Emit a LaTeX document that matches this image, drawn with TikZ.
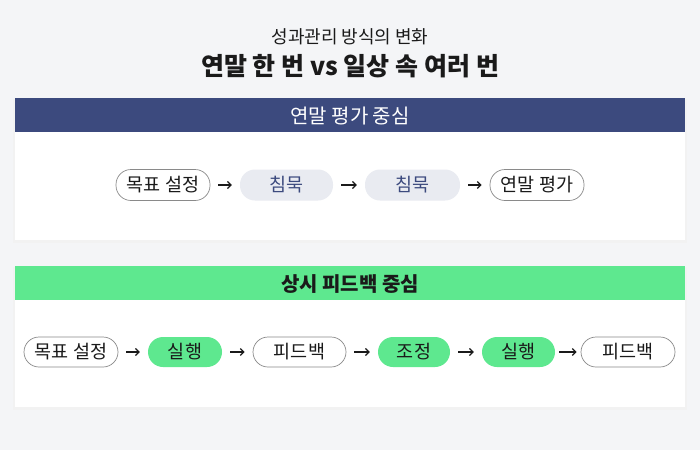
\documentclass[tikz,border=0pt]{standalone}
\usepackage{fontspec}
\setmainfont{Noto Sans CJK KR}
\usetikzlibrary{arrows.meta}
\definecolor{bgc}{HTML}{F4F5F7}
\definecolor{navy}{HTML}{3C4A7E}
\definecolor{grn}{HTML}{5EE88F}
\definecolor{softg}{HTML}{E9EBF1}
\definecolor{ink}{HTML}{1A1A1A}
\definecolor{edgec}{HTML}{8A8A8A}
\tikzset{
  x=1pt,y=-1pt,
  pill/.style={rounded corners=15pt, minimum height=31pt, inner sep=0pt, font=\fontsize{18.5}{22}\selectfont, text=ink},
  outl/.style={pill, draw=edgec, line width=0.7pt, fill=white},
  quiet/.style={pill, fill=softg, text=navy},
  act/.style={pill, fill=grn, text=ink},
  flow/.style={-{Straight Barb[length=3.5pt,width=7pt]}, line width=1.2pt, ink},
}
\begin{document}
\begin{tikzpicture}
\fill[bgc] (0,0) rectangle (700,450);
\useasboundingbox (0,0) rectangle (700,450);
% titles
\node[text=ink, font=\fontsize{18}{22}\selectfont] (sub) at (350,37) {성과관리 방식의 변화};
\node[text=ink, font=\fontsize{25}{30}\selectfont\bfseries] (ttl) at (350,66) {연말 한 번 vs 일상 속 여러 번};
% panel shadows
\fill[black!5] (13,99) rectangle (687,243);
\fill[black!5] (13,267) rectangle (687,410);
% panel 1
\fill[white] (15,132) rectangle (685,240);
\fill[navy] (15,98) rectangle (685,132);
\node[text=white, font=\fontsize{20}{24}\selectfont] (h1) at (350,116) {연말 평가 중심};
% panel 2
\fill[white] (15,300) rectangle (685,407);
\fill[grn] (15,266) rectangle (685,300);
\node[text=ink, font=\fontsize{20}{24}\selectfont\bfseries] (h2) at (350,284) {상시 피드백 중심};
% row 1
\node[outl, minimum width=94pt] (a1) at (163,185) {목표 설정};
\node[quiet, minimum width=93pt] (a2) at (286.5,185) {침묵};
\node[quiet, minimum width=95pt] (a3) at (412.5,185) {침묵};
\node[outl, minimum width=94pt] (a4) at (537,185) {연말 평가};
\draw[flow, shorten <=8pt, shorten >=8pt] (a1) -- (a2);
\draw[flow, shorten <=8pt, shorten >=8pt] (a2) -- (a3);
\draw[flow, shorten <=8pt, shorten >=8pt] (a3) -- (a4);
% row 2
\node[outl, minimum width=94pt, minimum height=30pt] (b1) at (71,352) {목표 설정};
\node[act, minimum width=74pt, minimum height=30pt] (b2) at (185,352) {실행};
\node[outl, minimum width=93pt, minimum height=30pt] (b3) at (299.5,352) {피드백};
\node[act, minimum width=72pt, minimum height=30pt] (b4) at (414,352) {조정};
\node[act, minimum width=73pt, minimum height=30pt] (b5) at (518.5,352) {실행};
\node[outl, minimum width=94pt, minimum height=30pt] (b6) at (628,352) {피드백};
\draw[flow, shorten <=8pt, shorten >=8pt] (b1) -- (b2);
\draw[flow, shorten <=8pt, shorten >=8pt] (b2) -- (b3);
\draw[flow, shorten <=8pt, shorten >=8pt] (b3) -- (b4);
\draw[flow, shorten <=8pt, shorten >=8pt] (b4) -- (b5);
\draw[flow, shorten <=4pt, shorten >=4pt] (b5) -- (b6);
\end{tikzpicture}
\end{document}
